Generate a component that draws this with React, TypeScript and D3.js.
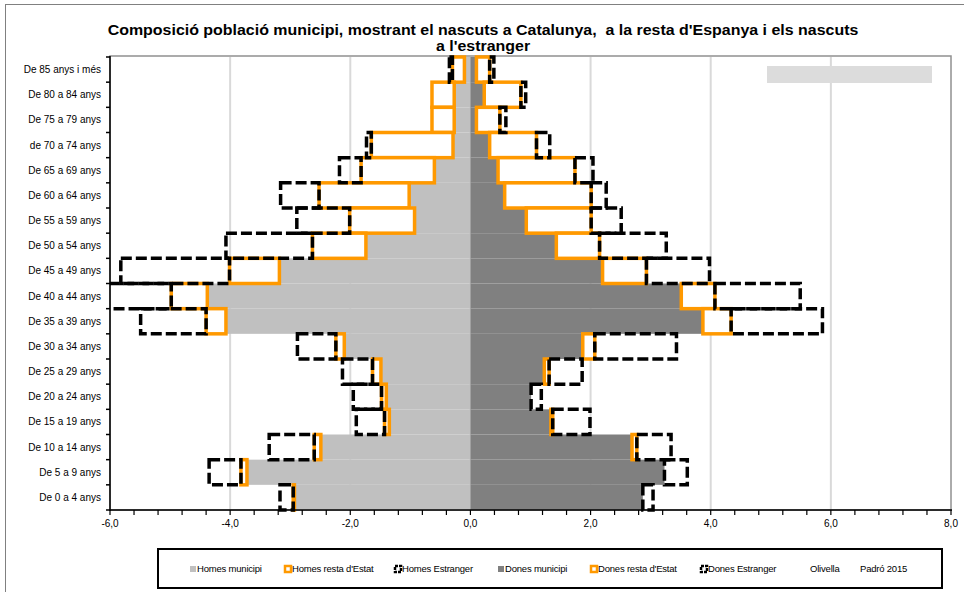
import React from "react";
import * as d3 from "d3";

const categories = [
  "De 85 anys i més",
  "De 80 a 84 anys",
  "De 75 a 79 anys",
  "de 70 a 74 anys",
  "De 65 a 69 anys",
  "De 60 a 64 anys",
  "De 55 a 59 anys",
  "De 50 a 54 anys",
  "De 45 a 49 anys",
  "De 40 a 44 anys",
  "De 35 a 39 anys",
  "De 30 a 34 anys",
  "De 25 a 29 anys",
  "De 20 a 24 anys",
  "De 15 a 19 anys",
  "De 10 a 14 anys",
  "De 5 a 9 anys",
  "De 0 a 4 anys",
];

const homesMunicipi = [0.1, 0.27, 0.27, 0.29, 0.6, 1.02, 0.93, 1.74, 3.18, 4.38, 4.07, 2.1, 1.49, 1.4, 1.35, 2.49, 3.72, 2.93];
const homesResta = [0.2, 0.37, 0.37, 1.36, 1.22, 1.5, 1.08, 0.89, 0.83, 0.6, 0.33, 0.14, 0.14, 0.08, 0.08, 0.11, 0.1, 0.02];
const homesEstranger = [0.05, 0, 0, 0.08, 0.36, 0.64, 0.88, 1.44, 1.81, 1.3, 1.09, 0.64, 0.5, 0.47, 0.47, 0.75, 0.53, 0.22];

const donesMunicipi = [0.1, 0.23, 0.1, 0.32, 0.46, 0.57, 0.93, 1.43, 2.2, 3.51, 3.87, 1.87, 1.23, 1.01, 1.34, 2.69, 3.23, 2.87];
const donesResta = [0.22, 0.61, 0.39, 0.78, 1.28, 1.44, 1.08, 0.72, 0.73, 0.56, 0.47, 0.2, 0.08, 0, 0.03, 0.08, 0, 0];
const donesEstranger = [0.07, 0.08, 0.1, 0.22, 0.3, 0.25, 0.5, 1.11, 1.05, 1.42, 1.52, 1.36, 0.55, 0.17, 0.62, 0.57, 0.38, 0.17];

const xTickValues = [-6, -4, -2, 0, 2, 4, 6, 8];
const legendItems = [
  "Homes municipi",
  "Homes resta d'Estat",
  "Homes Estranger",
  "Dones municipi",
  "Dones resta d'Estat",
  "Dones Estranger",
  "Olivella",
  "Padró 2015",
];
const titleLines = [
  "Composició població municipi, mostrant el nascuts a Catalunya,  a la resta d'Espanya i els nascuts",
  "a l'estranger",
];

const W = 964;
const H = 592;
const PL = 110;
const PR = 951;
const PT = 57;
const PB = 510;
const FONT = "Liberation Sans, Arial, sans-serif";
const ORANGE = "#FF9900";
const DASH = "11 4";

export default function App() {
  const x = d3.scaleLinear().domain([-6, 8]).range([PL, PR]);
  const y = d3.scaleBand<string>().domain(categories).range([PT, PB]).paddingInner(0).paddingOuter(0);
  const bw = y.bandwidth();
  const fmt = (v: number) => d3.format(".1f")(v).replace(".", ",").replace("−", "-");
  const minorTicks = d3.range(0, 36).map((i) => -6 + i * 0.4);

  type Seg = { cat: string; a: number; b: number };
  const segs = (base: number[], vals: number[], sign: number): Seg[] =>
    categories.map((c, i) => ({ cat: c, a: sign * base[i], b: sign * (base[i] + vals[i]) }));
  const zeros = categories.map(() => 0);
  const hMun = segs(zeros, homesMunicipi, -1);
  const hRes = segs(homesMunicipi, homesResta, -1);
  const hEst = segs(homesMunicipi.map((v, i) => v + homesResta[i]), homesEstranger, -1);
  const dMun = segs(zeros, donesMunicipi, 1);
  const dRes = segs(donesMunicipi, donesResta, 1);
  const dEst = segs(donesMunicipi.map((v, i) => v + donesResta[i]), donesEstranger, 1);

  const rect = (s: Seg, key: string, props: any) => {
    if (Math.abs(s.b - s.a) < 1e-6) return null;
    const x0 = Math.min(x(s.a), x(s.b));
    const x1 = Math.max(x(s.a), x(s.b));
    return <rect key={key} x={x0} y={y(s.cat)!} width={x1 - x0} height={bw} {...props} />;
  };

  const legendX = [190, 285, 395, 498, 591, 701, 810, 860];

  return (
    <svg width={W} height={H} style={{ position: "fixed", left: 0, top: 0, background: "#fff" }} fontFamily={FONT}>
      <defs>
        <clipPath id="plotClip">
          <rect x={PL} y={PT - 4} width={PR - PL} height={PB - PT + 8} />
        </clipPath>
      </defs>
      <rect x={0} y={0} width={W} height={H} fill="#fff" />
      <rect x={5.5} y={4.5} width={W + 10} height={H + 10} fill="none" stroke="#808080" strokeWidth={1} />

      {titleLines.map((t, i) => (
        <text
          key={i}
          transform={`translate(483, ${35 + i * 16}) scale(1.1, 1)`}
          textAnchor="middle"
          fontSize={14.5}
          fontWeight="bold"
          fill="#000"
          style={{ whiteSpace: "pre" }}
        >
          {t}
        </text>
      ))}

      {/* gridlines */}
      {xTickValues.slice(1, -1).map((v) => (
        <line key={v} x1={x(v)} x2={x(v)} y1={PT} y2={PB} stroke="#d9d9d9" strokeWidth={2} />
      ))}
      <rect x={PL} y={PT - 1} width={PR - PL} height={PB - PT + 1} fill="none" stroke="#909090" strokeWidth={1.5} />

      <g clipPath="url(#plotClip)">
        {hMun.map((s, i) => rect(s, "hm" + i, { fill: "#C0C0C0" }))}
        {dMun.map((s, i) => rect(s, "dm" + i, { fill: "#808080" }))}
        {hRes.map((s, i) => rect(s, "hr" + i, { fill: "#fff", stroke: ORANGE, strokeWidth: 3.5 }))}
        {dRes.map((s, i) => rect(s, "dr" + i, { fill: "#fff", stroke: ORANGE, strokeWidth: 3.5 }))}
        {hEst.map((s, i) => rect(s, "he" + i, { fill: "#fff", fillOpacity: 0.0, stroke: "#000", strokeWidth: 3.5, strokeDasharray: DASH }))}
        {dEst.map((s, i) => rect(s, "de" + i, { fill: "#fff", fillOpacity: 0.0, stroke: "#000", strokeWidth: 3.5, strokeDasharray: DASH }))}
      </g>

      {/* axes */}
      <line x1={PL} x2={PL} y1={PT - 1} y2={PB + 1} stroke="#000" strokeWidth={1.5} />
      <line x1={PL} x2={PR + 1} y1={PB} y2={PB} stroke="#000" strokeWidth={1.5} />
      {categories.map((c, i) => (
        <line key={"yt" + i} x1={PL - 4} x2={PL} y1={y(c)!} y2={y(c)!} stroke="#000" strokeWidth={1.5} />
      ))}
      <line x1={PL - 4} x2={PL} y1={PB} y2={PB} stroke="#000" strokeWidth={1.5} />
      {categories.map((c) => (
        <text key={"yl" + c} x={101} y={y(c)! + bw / 2} dy="0.35em" textAnchor="end" fontSize={10} fill="#000">
          {c}
        </text>
      ))}
      {minorTicks.map((v, i) => (
        <line key={"xt" + i} x1={x(v)} x2={x(v)} y1={PB} y2={PB + 5} stroke="#000" strokeWidth={1.2} />
      ))}
      {xTickValues.map((v) => (
        <text key={"xl" + v} x={x(v)} y={527} textAnchor="middle" fontSize={10} fill="#000">
          {fmt(v)}
        </text>
      ))}

      {/* text box */}
      <rect x={767} y={66} width={165} height={17} fill="#dcdcdc" />

      {/* legend */}
      <rect x={158} y={549} width={784} height={39} fill="#fff" stroke="#000" strokeWidth={2} />
      {legendItems.map((t, i) => {
        const lx = legendX[i];
        const cy = 569;
        let marker: any = null;
        if (i === 0) marker = <rect x={lx} y={cy - 3} width={6} height={6} fill="#C0C0C0" />;
        if (i === 3) marker = <rect x={lx} y={cy - 3} width={6} height={6} fill="#808080" />;
        if (i === 1 || i === 4)
          marker = <rect x={lx} y={cy - 3} width={6} height={6} fill="#fff" stroke={ORANGE} strokeWidth={2.5} />;
        if (i === 2 || i === 5)
          marker = <rect x={lx} y={cy - 3} width={6} height={6} fill="#fff" stroke="#000" strokeWidth={2.5} strokeDasharray="3 1" />;
        return (
          <g key={"lg" + i}>
            {marker}
            <text x={i >= 6 ? lx : lx + 7} y={cy} dy="0.35em" fontSize={9.5} fill="#000" letterSpacing={-0.2}>
              {t}
            </text>
          </g>
        );
      })}
    </svg>
  );
}
